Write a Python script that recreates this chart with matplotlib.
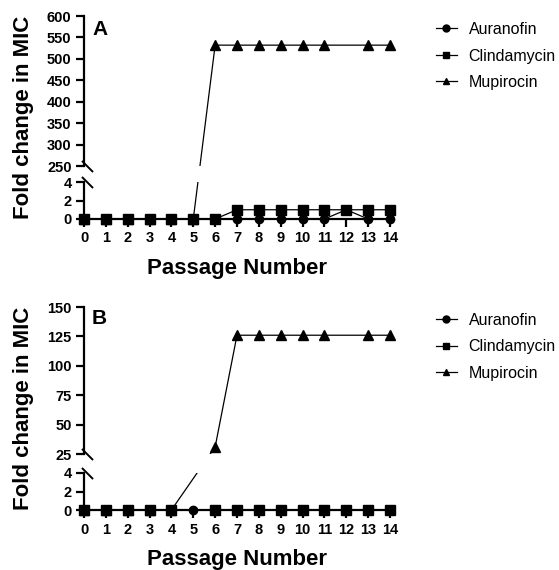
import numpy as np
import matplotlib
matplotlib.use("Agg")
import matplotlib.pyplot as plt

plt.rcParams['font.family'] = ['Liberation Sans', 'DejaVu Sans']

passage = np.arange(0, 15)
nan = np.nan

# panel A
auranofin_a = [0, 0, 0, 0, 0, 0, 0, 0, 0, 0, 0, 0, 1, 0, 0]
clinda_a = [0, 0, 0, 0, 0, 0, 0, 1, 1, 1, 1, 1, 1, 1, 1]
mupi_a = [0, 0, 0, 0, 0, 0, 532, 532, 532, 532, 532, 532, nan, 532, 532]

# panel B
auranofin_b = [0] * 15
clinda_b = [0, 0, 0, 0, 0, nan, 0, 0, 0, 0, 0, 0, 0, 0, 0]
mupi_b = [0, 0, 0, 0, 0, nan, 31, 126, 126, 126, 126, 126, nan, 126, 126]

names = ['Auranofin', 'Clindamycin', 'Mupirocin']
markers = ['o', 's', '^']
msizes = [6.0, 6.5, 6.5]
zorders = [4, 5, 3]

W, H = 559, 570
fig = plt.figure(figsize=(W / 100, H / 100), dpi=100)


def fax(x0, y_top, x1, y_bot):
    return fig.add_axes([x0 / W, 1 - y_bot / H, (x1 - x0) / W, (y_bot - y_top) / H])


def panel(tops, lows, series, upper_lim, upper_ticks, letter, letter_top, legend_top):
    ax_u = fax(84, tops[0], 390, tops[1])
    ax_l = fax(84, lows[0], 390, lows[1])
    for ax in (ax_u, ax_l):
        ax.set_xlim(0, 14)
        for s in ['top', 'right']:
            ax.spines[s].set_visible(False)
        for s in ['left', 'bottom']:
            ax.spines[s].set_linewidth(1.6)
        ax.tick_params(width=1.6, length=6, pad=3)
    ax_u.spines['bottom'].set_visible(False)
    ax_u.tick_params(axis='x', bottom=False, labelbottom=False)
    ax_u.set_ylim(*upper_lim)
    ax_u.set_yticks(upper_ticks, [str(t) for t in upper_ticks],
                    fontsize=10.5, fontweight='bold')
    ax_l.set_ylim(0, 4)
    ax_l.set_yticks([0, 2, 4], ['0', '2', '4'], fontsize=10.5, fontweight='bold')
    ax_l.set_xticks(passage, [str(p) for p in passage], fontsize=10.5,
                    fontweight='bold')

    lo_hi = ax_l.get_ylim()[1]
    handles = []
    for vals, name, m, ms, z in zip(series, names, markers, msizes, zorders):
        v = np.array(vals, dtype=float)
        ok = ~np.isnan(v)
        x, y = passage[ok], v[ok]
        # pixel positions through the broken scale
        pix = np.array([(ax_u if yy > lo_hi else ax_l).transData.transform((xx, yy))
                        for xx, yy in zip(x, y)])
        for ax in (ax_u, ax_l):
            d = ax.transData.inverted().transform(pix)
            ax.plot(d[:, 0], d[:, 1], '-', color='black', lw=0.9, zorder=z)
            lo, hi = ax.get_ylim()
            inside = (y >= lo - 1e-9) & (y <= hi)
            ax.plot(x[inside], y[inside], linestyle='none', marker=m,
                    ms=ms, color='black', clip_on=False, zorder=z)
        h, = ax_u.plot([], [], '-', color='black', lw=0.9, marker=m, ms=5,
                       label=name)
        handles.append(h)

    kw = dict(marker=[(-1, 1), (1, -1)], markersize=8, linestyle='none',
              color='black', mec='black', mew=1.4, clip_on=False)
    ax_u.plot([0.01], [0], transform=ax_u.transAxes, **kw)
    ax_l.plot([0.01], [1], transform=ax_l.transAxes, **kw)

    fig.text(92 / W, 1 - letter_top / H, letter, fontsize=15,
             fontweight='bold', va='top', ha='left')
    ax_l.set_xlabel('Passage Number', fontsize=16, fontweight='bold',
                    labelpad=9)
    fig.text(24 / W, 1 - ((tops[0] + lows[1]) / 2) / H, 'Fold change in MIC',
             rotation=90, fontsize=16, fontweight='bold', ha='center',
             va='center')
    fig.legend(handles=handles, loc='upper left',
               bbox_to_anchor=(436 / W, 1 - legend_top / H), frameon=False,
               fontsize=11.5, handlelength=1.3, handletextpad=0.75,
               labelspacing=0.72, borderpad=0, borderaxespad=0)


panel((16, 166), (182, 219), [auranofin_a, clinda_a, mupi_a], (250, 600),
      np.arange(250, 601, 50), 'A', 20, 22)
panel((307, 454), (473, 510), [auranofin_b, clinda_b, mupi_b], (25, 150),
      np.arange(25, 151, 25), 'B', 309, 313)

fig.savefig('out.png', dpi=100)
